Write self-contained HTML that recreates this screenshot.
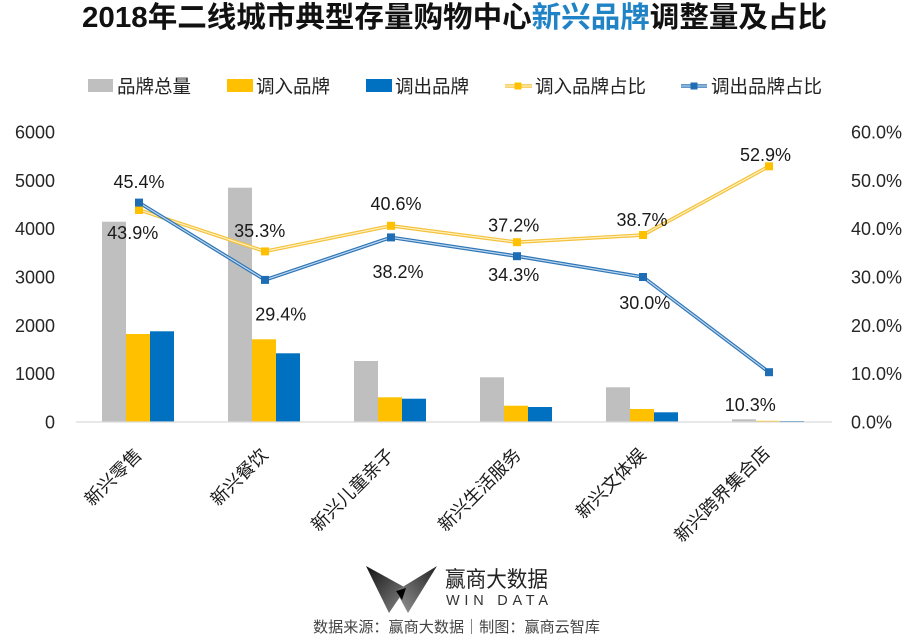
<!DOCTYPE html>
<html><head><meta charset="utf-8"><style>
html,body{margin:0;padding:0;background:#fff;}
svg{display:block;}
text{font-family:"Liberation Sans","Noto Sans CJK SC",sans-serif;}
</style></head><body>
<svg width="910" height="639" viewBox="0 0 910 639" xmlns="http://www.w3.org/2000/svg">
<rect width="910" height="639" fill="#fff"/>
<!-- Title -->
<text x="82" y="27" font-size="29" font-weight="bold" fill="#111" textLength="745" lengthAdjust="spacingAndGlyphs">2018年二线城市典型存量购物中心<tspan fill="#1f83c6">新兴品牌</tspan>调整量及占比</text>

<!-- Legend -->
<rect x="88" y="79" width="25" height="13" fill="#bfbfbf"/>
<text x="117" y="93" font-size="18.5" fill="#222">品牌总量</text>
<rect x="227" y="79" width="26" height="13" fill="#ffc000"/>
<text x="256" y="93" font-size="18.5" fill="#222">调入品牌</text>
<rect x="366" y="79" width="26" height="13" fill="#0070c0"/>
<text x="395" y="93" font-size="18.5" fill="#222">调出品牌</text>
<line x1="505" y1="86" x2="532" y2="86" stroke="#f4c23d" stroke-width="3.5"/>
<line x1="505" y1="86" x2="532" y2="86" stroke="#fff1c2" stroke-width="1.2"/>
<rect x="514.5" y="82.5" width="7" height="7" fill="#ffc000"/>
<text x="535" y="93" font-size="18.5" fill="#222">调入品牌占比</text>
<line x1="681" y1="86" x2="707" y2="86" stroke="#2e75b6" stroke-width="3.5"/>
<line x1="681" y1="86" x2="707" y2="86" stroke="#bcd7ef" stroke-width="1.2"/>
<rect x="690.5" y="82.5" width="7" height="7" fill="#1f6db5"/>
<text x="711" y="93" font-size="18.5" fill="#222">调出品牌占比</text>

<!-- Left axis labels -->
<g font-size="18" fill="#262626" text-anchor="end">
<text x="55" y="138.5">6000</text>
<text x="55" y="186.8">5000</text>
<text x="55" y="235.2">4000</text>
<text x="55" y="283.5">3000</text>
<text x="55" y="331.8">2000</text>
<text x="55" y="380.2">1000</text>
<text x="55" y="428.5">0</text>
</g>
<!-- Right axis labels -->
<g font-size="18" fill="#262626">
<text x="851" y="138.5">60.0%</text>
<text x="851" y="186.8">50.0%</text>
<text x="851" y="235.2">40.0%</text>
<text x="851" y="283.5">30.0%</text>
<text x="851" y="331.8">20.0%</text>
<text x="851" y="380.2">10.0%</text>
<text x="851" y="428.5">0.0%</text>
</g>

<!-- Bars -->
<g>
<rect x="102" y="221.7" width="24" height="200.3" fill="#bfbfbf"/>
<rect x="126" y="334" width="24" height="88" fill="#ffc000"/>
<rect x="150" y="331.3" width="24" height="90.7" fill="#0070c0"/>

<rect x="228" y="187.7" width="24" height="234.3" fill="#bfbfbf"/>
<rect x="252" y="339.3" width="24" height="82.7" fill="#ffc000"/>
<rect x="276" y="353.3" width="24" height="68.7" fill="#0070c0"/>

<rect x="354" y="361" width="24" height="61" fill="#bfbfbf"/>
<rect x="378" y="397.3" width="24" height="24.7" fill="#ffc000"/>
<rect x="402" y="398.7" width="24" height="23.3" fill="#0070c0"/>

<rect x="480" y="377.3" width="24" height="44.7" fill="#bfbfbf"/>
<rect x="504" y="405.7" width="24" height="16.3" fill="#ffc000"/>
<rect x="528" y="407" width="24" height="15" fill="#0070c0"/>

<rect x="606" y="387.3" width="24" height="34.7" fill="#bfbfbf"/>
<rect x="630" y="409" width="24" height="13" fill="#ffc000"/>
<rect x="654" y="412.3" width="24" height="9.7" fill="#0070c0"/>

<rect x="732" y="419.3" width="24" height="2.7" fill="#bfbfbf"/>
<rect x="756" y="420.8" width="24" height="1.2" fill="#ffc000"/>
<rect x="780" y="421" width="24" height="1" fill="#0070c0"/>
</g>
<!-- Baseline -->
<line x1="76" y1="422" x2="832" y2="422" stroke="#d9d9d9" stroke-width="1.2"/>

<!-- Yellow line -->
<polyline points="139,209.8 265,251.4 391,225.8 517,242.2 643,235.0 769,166.3" fill="none" stroke="#f4c23d" stroke-width="3.6" stroke-linejoin="round"/>
<polyline points="139,209.8 265,251.4 391,225.8 517,242.2 643,235.0 769,166.3" fill="none" stroke="#fff1c2" stroke-width="1.2" stroke-linejoin="round"/>
<!-- Blue line -->
<polyline points="139,202.6 265,279.9 391,237.4 517,256.2 643,277.0 769,372.2" fill="none" stroke="#2e75b6" stroke-width="3.6" stroke-linejoin="round"/>
<polyline points="139,202.6 265,279.9 391,237.4 517,256.2 643,277.0 769,372.2" fill="none" stroke="#bcd7ef" stroke-width="1.2" stroke-linejoin="round"/>
<!-- Markers -->
<g fill="#ffc000">
<rect x="135" y="206" width="8" height="8"/>
<rect x="261" y="247.4" width="8" height="8"/>
<rect x="387" y="221.8" width="8" height="8"/>
<rect x="513" y="238.2" width="8" height="8"/>
<rect x="639" y="231" width="8" height="8"/>
<rect x="765" y="162.3" width="8" height="8"/>
</g>
<g fill="#1f6db5">
<rect x="135" y="198.6" width="8" height="8"/>
<rect x="261" y="275.9" width="8" height="8"/>
<rect x="387" y="233.4" width="8" height="8"/>
<rect x="513" y="252.2" width="8" height="8"/>
<rect x="639" y="273" width="8" height="8"/>
<rect x="765" y="368.2" width="8" height="8"/>
</g>

<!-- Data labels -->
<g font-size="18" fill="#1a1a1a" text-anchor="middle">
<text x="139" y="188">45.4%</text>
<text x="132.7" y="239">43.9%</text>
<text x="259.7" y="237">35.3%</text>
<text x="280.8" y="320.5">29.4%</text>
<text x="396" y="210">40.6%</text>
<text x="398" y="278">38.2%</text>
<text x="513.7" y="231.5">37.2%</text>
<text x="513.7" y="281">34.3%</text>
<text x="642" y="226">38.7%</text>
<text x="644.8" y="309">30.0%</text>
<text x="765.5" y="161">52.9%</text>
<text x="750.3" y="411">10.3%</text>
</g>

<!-- Category labels -->
<g font-size="18" fill="#1a1a1a" text-anchor="end">
<text x="143" y="456" transform="rotate(-45 143 456)">新兴零售</text>
<text x="269" y="456" transform="rotate(-45 269 456)">新兴餐饮</text>
<text x="395" y="456" transform="rotate(-45 395 456)">新兴儿童亲子</text>
<text x="522" y="456" transform="rotate(-45 522 456)">新兴生活服务</text>
<text x="647" y="456" transform="rotate(-45 647 456)">新兴文体娱</text>
<text x="771" y="454" transform="rotate(-45 771 454)">新兴跨界集合店</text>
</g>

<!-- Logo -->
<defs>
<linearGradient id="gl" x1="0" y1="0" x2="1" y2="1">
<stop offset="0" stop-color="#111"/><stop offset="1" stop-color="#888"/>
</linearGradient>
<linearGradient id="gr" x1="1" y1="0" x2="0" y2="1">
<stop offset="0" stop-color="#222"/><stop offset="1" stop-color="#999"/>
</linearGradient>
</defs>
<polygon points="366,566 406,588 389,613" fill="url(#gl)"/>
<polygon points="437,566 396,591 408,613" fill="url(#gr)"/>
<polygon points="396,591 406,588 402,600" fill="#000"/>
<text x="445" y="587" font-size="22" fill="#222" textLength="103" lengthAdjust="spacingAndGlyphs">赢商大数据</text>
<text x="446" y="605" font-size="14.5" fill="#333" textLength="102" lengthAdjust="spacing">WIN DATA</text>
<text x="313" y="632" font-size="15" fill="#444" textLength="287" lengthAdjust="spacingAndGlyphs">数据来源：赢商大数据｜制图：赢商云智库</text>
</svg>
</body></html>
